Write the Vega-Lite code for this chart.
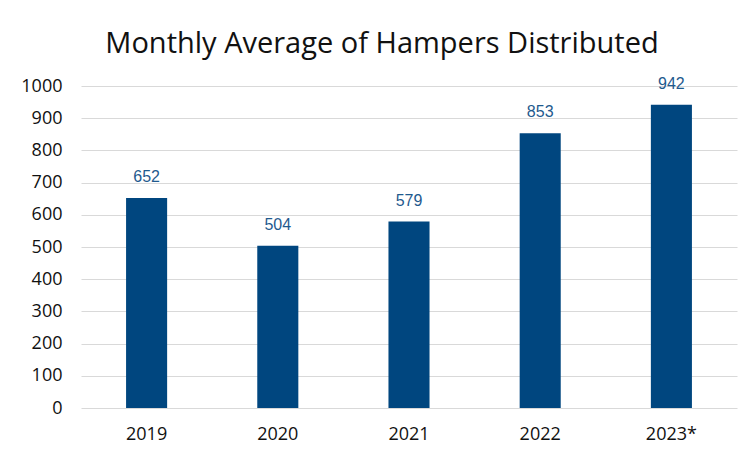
{
  "$schema": "https://vega.github.io/schema/vega-lite/v6.json",
  "width": 656,
  "height": 322,
  "autosize": {"type": "none"},
  "padding": {"left": 81, "top": 86, "right": 14, "bottom": 47},
  "background": "white",
  "title": {
    "text": "Monthly Average of Hampers Distributed",
    "font": "Open Sans",
    "fontSize": 29,
    "fontWeight": "normal",
    "color": "#111111",
    "anchor": "middle",
    "dx": -27,
    "offset": 17
  },
  "data": {
    "values": [
      {"year": "2019", "hampers": 652},
      {"year": "2020", "hampers": 504},
      {"year": "2021", "hampers": 579},
      {"year": "2022", "hampers": 853},
      {"year": "2023*", "hampers": 942}
    ]
  },
  "encoding": {
    "x": {
      "field": "year",
      "type": "nominal",
      "sort": null,
      "scale": {"paddingInner": 0.687, "paddingOuter": 0.3435},
      "axis": {
        "title": null,
        "labelAngle": 0,
        "domain": false,
        "ticks": false,
        "labelFont": "Open Sans",
        "labelFontSize": 18,
        "labelColor": "#111111",
        "labelPadding": 17
      }
    },
    "y": {
      "field": "hampers",
      "type": "quantitative",
      "scale": {"domain": [0, 1000], "nice": false},
      "axis": {
        "title": null,
        "format": "d",
        "values": [0, 100, 200, 300, 400, 500, 600, 700, 800, 900, 1000],
        "domain": false,
        "ticks": false,
        "grid": true,
        "gridColor": "#d9d9d9",
        "gridWidth": 1.2,
        "labelFont": "Open Sans",
        "labelFontSize": 18,
        "labelColor": "#111111",
        "labelPadding": 19
      }
    }
  },
  "layer": [
    {"mark": {"type": "bar", "color": "#00467F"}},
    {
      "mark": {
        "type": "text",
        "baseline": "bottom",
        "dy": -13,
        "font": "Liberation Sans",
        "fontSize": 16,
        "color": "#1F5A8E"
      },
      "encoding": {"text": {"field": "hampers", "type": "quantitative"}}
    }
  ],
  "config": {"view": {"stroke": null}}
}
